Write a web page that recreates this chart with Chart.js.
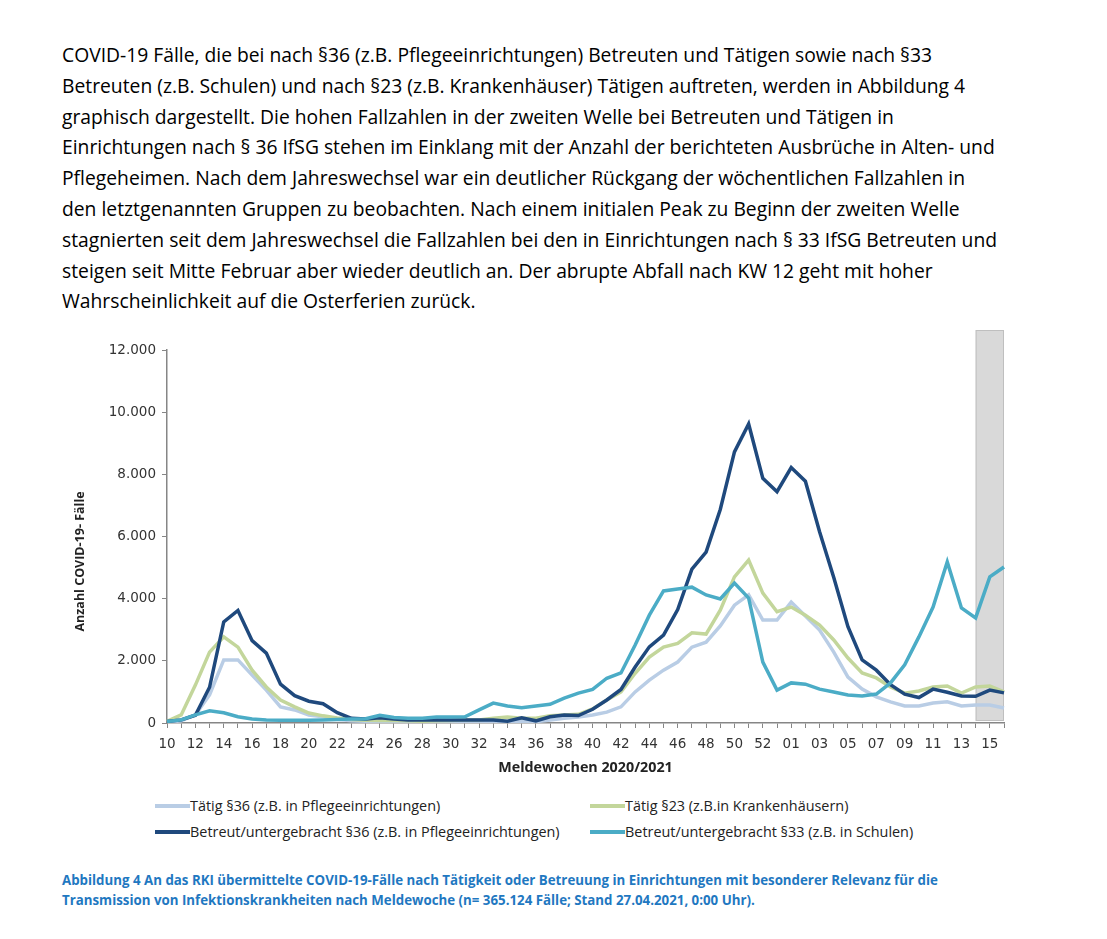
<!DOCTYPE html>
<html lang="de">
<head>
<meta charset="utf-8">
<script src="https://cdn.jsdelivr.net/npm/chart.js@4.4.1/dist/chart.umd.min.js"></script>
<style>
    body { margin: 0; background: #fff; width: 1107px; height: 939px; position: relative; overflow: hidden; font-family: "Open Sans", sans-serif; }
    #text { position: absolute; left: 62px; top: 40px; font-size: 19.3px; line-height: 30.8px; color: #000; }
    #text div { white-space: nowrap; }
    #chartBox { position: absolute; left: 60px; top: 320px; width: 960px; height: 460px; }
    #legend { position: absolute; left: 155px; top: 796px; width: 800px; font-size: 14.4px; color: #222; }
    .item { position: absolute; white-space: nowrap; display: flex; align-items: center; }
    .swatch { width: 35px; height: 4px; display: inline-block; }
    #caption { position: absolute; left: 62px; top: 870px; font-size: 13.3px; font-weight: bold; color: #1f78c1; line-height: 20px; }
    #caption div { white-space: nowrap; }
</style>
</head>
<body>
<div id="text">
    <div>COVID-19 Fälle, die bei nach §36 (z.B. Pflegeeinrichtungen) Betreuten und Tätigen sowie nach §33</div>
    <div>Betreuten (z.B. Schulen) und nach §23 (z.B. Krankenhäuser) Tätigen auftreten, werden in Abbildung 4</div>
    <div>graphisch dargestellt. Die hohen Fallzahlen in der zweiten Welle bei Betreuten und Tätigen in</div>
    <div>Einrichtungen nach § 36 IfSG stehen im Einklang mit der Anzahl der berichteten Ausbrüche in Alten- und</div>
    <div>Pflegeheimen. Nach dem Jahreswechsel war ein deutlicher Rückgang der wöchentlichen Fallzahlen in</div>
    <div>den letztgenannten Gruppen zu beobachten. Nach einem initialen Peak zu Beginn der zweiten Welle</div>
    <div>stagnierten seit dem Jahreswechsel die Fallzahlen bei den in Einrichtungen nach § 33 IfSG Betreuten und</div>
    <div>steigen seit Mitte Februar aber wieder deutlich an. Der abrupte Abfall nach KW 12 geht mit hoher</div>
    <div>Wahrscheinlichkeit auf die Osterferien zurück.</div>
</div>
<div id="chartBox"><canvas id="chart"></canvas></div>
<div id="legend"></div>
<div id="caption">
    <div>Abbildung 4 An das RKI übermittelte COVID-19-Fälle nach Tätigkeit oder Betreuung in Einrichtungen mit besonderer Relevanz für die</div>
    <div>Transmission von Infektionskrankheiten nach Meldewoche (n= 365.124 Fälle; Stand 27.04.2021, 0:00 Uhr).</div>
</div>
<script>
// Meldewochen 2020 (10-53) und 2021 (01-16)
const weeks = [
    "10","11","12","13","14","15","16","17","18","19",
    "20","21","22","23","24","25","26","27","28","29",
    "30","31","32","33","34","35","36","37","38","39",
    "40","41","42","43","44","45","46","47","48","49",
    "50","51","52","53",
    "01","02","03","04","05","06","07","08","09","10",
    "11","12","13","14","15","16"
];

const taetig36 = [
    30, 70, 260, 900, 2030, 2030, 1540, 1060, 520, 420,
    260, 200, 120, 70, 60, 60, 50, 50, 50, 50,
    50, 50, 50, 40, 40, 60, 40, 100, 150, 190,
    260, 350, 520, 1000, 1380, 1700, 1960, 2440, 2600, 3120,
    3790, 4120, 3310, 3310,
    3890, 3440, 2990, 2280, 1480, 1090, 840, 680, 550, 550,
    640, 680, 550, 580, 580, 480
];

const taetig23 = [
    50, 260, 1220, 2280, 2770, 2440, 1700, 1160, 740, 520,
    320, 230, 160, 110, 90, 80, 80, 70, 60, 70,
    80, 100, 100, 150, 190, 150, 150, 230, 260, 280,
    450, 740, 1000, 1600, 2120, 2440, 2560, 2900, 2860, 3630,
    4700, 5240, 4180, 3580,
    3730, 3470, 3150, 2670, 2090, 1610, 1450, 1160, 960, 1030,
    1160, 1190, 960, 1160, 1190, 1000
];

const betreut36 = [
    50, 100, 250, 1150, 3250, 3620, 2650, 2250, 1250, 880,
    700, 620, 330, 150, 130, 170, 130, 100, 100, 100,
    100, 100, 100, 100, 60, 170, 70, 200, 260, 240,
    440, 740, 1080, 1800, 2450, 2830, 3650, 4950, 5500, 6870,
    8720, 9620, 7870, 7440,
    8220, 7780, 6150, 4680, 3100, 2030, 1700, 1230, 930, 820,
    1090, 990, 870, 860, 1060, 970
];

const betreut33 = [
    50, 100, 260, 390, 330, 200, 130, 100, 90, 90,
    90, 100, 110, 130, 140, 250, 180, 150, 150, 190,
    190, 200, 420, 640, 550, 490, 550, 600, 800, 960,
    1080, 1440, 1610, 2510, 3470, 4250, 4310, 4370, 4120, 3990,
    4500, 4020, 1960, 1060,
    1290, 1250, 1090, 1000, 900, 870, 930, 1290, 1870, 2770,
    3730, 5180, 3700, 3380, 4700, 5020
];

// letzte Wochen noch unvollständig (grau hinterlegt)
const shadedFrom = weeks.lastIndexOf("14");

const yTicks = [0, 2000, 4000, 6000, 8000, 10000, 12000];

const seriesNames = [
    "Tätig §36 (z.B. in Pflegeeinrichtungen)",
    "Tätig §23 (z.B.in Krankenhäusern)",
    "Betreut/untergebracht §36 (z.B. in Pflegeeinrichtungen)",
    "Betreut/untergebracht §33 (z.B. in Schulen)"
];
const seriesColors = ['#b9cde5', '#c3d69b', '#1f497d', '#4bacc6'];
const seriesData = [taetig36, taetig23, betreut36, betreut33];

const yTitle = 'Anzahl COVID-19- Fälle';
const tickFont = { family: 'DejaVu Sans', size: 13.5 };
const axisColor = '#868686';

const shadePlugin = {
    id: 'shade',
    beforeDatasetsDraw(chart) {
        const x = chart.scales.x;
        const area = chart.chartArea;
        const left = x.getPixelForValue(shadedFrom);
        const ctx = chart.ctx;
        ctx.save();
        ctx.fillStyle = '#d9d9d9';
        ctx.strokeStyle = '#bfbfbf';
        ctx.lineWidth = 1;
        ctx.fillRect(left, area.top - 20, area.right - left, area.bottom - area.top + 18);
        ctx.strokeRect(left + 0.5, area.top - 19.5, area.right - left - 1, area.bottom - area.top + 17);
        ctx.restore();
    }
};

// y-Achsentitel etwas unterhalb der Mitte, wie im Original
const yTitlePlugin = {
    id: 'yTitle',
    afterDraw(chart) {
        const area = chart.chartArea;
        const ctx = chart.ctx;
        ctx.save();
        ctx.translate(20, (area.top + area.bottom) / 2 + 25);
        ctx.rotate(-Math.PI / 2);
        ctx.font = 'bold 12.5px "Open Sans"';
        ctx.fillStyle = '#222';
        ctx.textAlign = 'center';
        ctx.textBaseline = 'middle';
        ctx.fillText(yTitle, 0, 0);
        ctx.restore();
    }
};

const ctx = document.getElementById('chart').getContext('2d');
const chart = new Chart(ctx, {
    type: 'line',
    data: {
        labels: weeks,
        datasets: seriesData.map((d, i) => ({
            label: seriesNames[i],
            data: d,
            borderColor: seriesColors[i],
            backgroundColor: seriesColors[i],
            borderWidth: 3.5,
            pointRadius: 0,
            tension: 0,
            order: 3 - i
        }))
    },
    options: {
        responsive: true,
        maintainAspectRatio: false,
        animation: false,
        layout: { padding: { top: 30, right: 16, left: 0, bottom: 0 } },
        plugins: {
            legend: { display: false },
            tooltip: { enabled: false }
        },
        scales: {
            x: {
                offset: false,
                border: { color: axisColor, width: 1.5 },
                grid: { display: true, drawOnChartArea: false, drawTicks: true, tickLength: 5, color: axisColor },
                ticks: {
                    autoSkip: false,
                    maxRotation: 0,
                    color: '#333',
                    font: tickFont,
                    padding: 8,
                    callback: (v, i) => (i % 2 === 0 ? weeks[i] : '')
                },
                title: {
                    display: true,
                    text: 'Meldewochen 2020/2021',
                    color: '#222',
                    font: { family: 'Open Sans', size: 14.3, weight: 'bold' },
                    padding: { top: 4, bottom: 3 }
                },
                afterFit: (scale) => { scale.height = 57; }
            },
            y: {
                min: 0,
                max: 12000,
                afterBuildTicks: (scale) => { scale.ticks = yTicks.map(v => ({ value: v })); },
                border: { color: axisColor, width: 1.5 },
                grid: { display: true, drawOnChartArea: false, drawTicks: true, tickLength: 5, color: axisColor },
                ticks: {
                    color: '#333',
                    font: tickFont,
                    padding: 6,
                    callback: (v) => v.toLocaleString('de-DE')
                },
                afterFit: (scale) => { scale.width = 107; }
            }
        }
    },
    plugins: [shadePlugin, yTitlePlugin]
});

// Legende in zwei Spalten wie im Bericht
const legend = document.getElementById('legend');
const legendPos = [[0, 0], [435, 0], [0, 26], [435, 26]];
chart.data.datasets.forEach((ds, i) => {
    const item = document.createElement('div');
    item.className = 'item';
    item.style.left = legendPos[i][0] + 'px';
    item.style.top = legendPos[i][1] + 'px';
    const sw = document.createElement('span');
    sw.className = 'swatch';
    sw.style.background = ds.borderColor;
    const label = document.createElement('span');
    label.textContent = ds.label;
    item.appendChild(sw);
    item.appendChild(label);
    legend.appendChild(item);
});
</script>
</body>
</html>
